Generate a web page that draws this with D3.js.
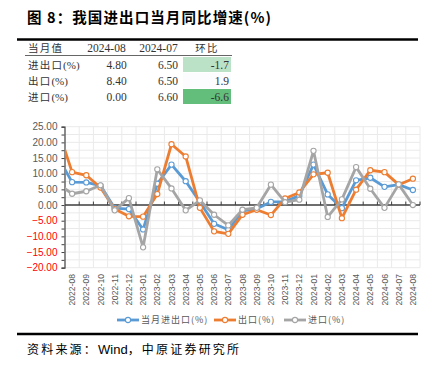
<!DOCTYPE html>
<html><head><meta charset="utf-8">
<script src="https://cdn.jsdelivr.net/npm/d3@7/dist/d3.min.js"></script>
<style>
html,body{margin:0;padding:0;background:#fff;}
svg{display:block;}
</style></head>
<body>
<svg id="c" width="439" height="370"></svg>
<script>
// ---- data ----
// first month (2022-07) is only used for the clipped segment entering the plot
const months = ["2022-07","2022-08","2022-09","2022-10","2022-11","2022-12","2023-01","2023-02","2023-03","2023-04","2023-05","2023-06","2023-07","2023-08","2023-09","2023-10","2023-11","2023-12","2024-01","2024-02","2024-03","2024-04","2024-05","2024-06","2024-07","2024-08"];
const totalYoY  = [15.3, 7.3, 7.2, 6.2, -1.0, -1.3, -7.8, 6.8, 12.9, 7.6, 1.0, -6.0, -7.9, -1.9, -1.2, 1.0, 1.1, 3.0, 12.9, 3.4, -1.0, 7.9, 8.7, 5.8, 6.5, 4.8];
const exportYoY = [24.3, 10.5, 9.5, 5.6, -1.3, -3.6, -3.7, 3.5, 19.4, 15.5, -0.9, -8.4, -9.2, -3.1, -1.5, -3.2, 2.1, 4.0, 9.8, 10.3, -4.2, 4.9, 11.1, 10.5, 6.5, 8.4];
const importYoY = [6.8, 3.6, 4.4, 6.3, -1.7, 2.2, -13.5, 11.4, 5.3, -1.7, 1.5, -3.1, -6.5, -1.5, -0.9, 6.5, 0.9, 1.7, 17.3, -3.8, 1.8, 12.1, 5.2, -0.9, 6.6, 0.0];
const seriesNames = ["当月进出口(%)", "出口(%)", "进口(%)"];
const yTicks = [25, 20, 15, 10, 5, 0, -5, -10, -15, -20];

const tableHeader = ["当月值", "2024-08", "2024-07", "环比"];
const tableRows = ["进出口(%)", "出口(%)", "进口(%)"];
const tableAug = [4.80, 8.40, 0.00];
const tableJul = [6.50, 6.50, 6.60];
const tableMoM = [-1.7, 1.9, -6.6];

// ---- drawing ----
const svg = d3.select("#c");
const cjk = "'Noto Sans CJK SC', 'Noto Sans', sans-serif";
const serif = "'Liberation Serif', 'DejaVu Serif', 'Noto Sans CJK SC', serif";
const sans = "'Liberation Sans', Arial, sans-serif";

// title
svg.append("text").attr("x", 27).attr("y", 23)
  .attr("font-family", cjk).attr("font-weight", "bold").attr("font-size", 14.5)
  .attr("letter-spacing", 1.1).attr("fill", "#000")
  .text("图 8：我国进出口当月同比增速(%)");
svg.append("line").attr("x1", 17).attr("x2", 418).attr("y1", 39.5).attr("y2", 39.5)
  .attr("stroke", "#000").attr("stroke-width", 2.5);

// table
const colRight = [null, 126.7, 178, 229];
const headerX = [28, 106.5, 158.5, 207];
tableHeader.forEach((h, i) => {
  svg.append("text").attr("x", headerX[i]).attr("y", 52)
    .attr("text-anchor", i === 0 ? "start" : "middle")
    .attr("font-family", i === 0 || i === 3 ? cjk : serif)
    .attr("font-size", i === 0 || i === 3 ? 10.5 : 11.5)
    .attr("letter-spacing", i === 0 || i === 3 ? 1.2 : 0)
    .attr("fill", "#333").text(h);
});
svg.append("line").attr("x1", 25).attr("x2", 232).attr("y1", 55.5).attr("y2", 55.5)
  .attr("stroke", "#666").attr("stroke-width", 1);
const momColor = d3.scaleLinear().domain([d3.min(tableMoM), d3.max(tableMoM)]).range(["#63BE7B", "#FCFCFF"]);
tableRows.forEach((r, i) => {
  const top = 57 + i * 16;
  const base = top + 12;
  svg.append("rect").attr("x", 183).attr("y", top).attr("width", 48).attr("height", 15)
    .attr("fill", momColor(tableMoM[i]));
  const t = svg.append("text").attr("x", 28).attr("y", base).attr("fill", "#333");
  const m = r.match(/^(.*?)(\(%\))$/);
  t.append("tspan").attr("font-family", cjk).attr("font-size", 10.5).attr("letter-spacing", 1.2).text(m[1]);
  t.append("tspan").attr("font-family", serif).attr("font-size", 11).text(m[2]);
  [tableAug[i].toFixed(2), tableJul[i].toFixed(2), tableMoM[i].toFixed(1)].forEach((v, j) => {
    svg.append("text").attr("x", colRight[j + 1]).attr("y", base).attr("text-anchor", "end")
      .attr("font-family", serif).attr("font-size", 11.5).attr("fill", "#333").text(v);
  });
});

// chart
const left = 65, right = 420;
const nVisible = months.length - 1;
const step = (right - left) / nVisible;
const x = d3.scaleBand().domain(months).range([left - step, right]).padding(0);
const cx = m => x(m) + x.bandwidth() / 2;
const y = d3.scaleLinear().domain([-20, 25]).range([267.7, 126.7]);
const visible = months.slice(1);

const g = svg.append("g");
// horizontal grid every 2.5
d3.range(-20, 25.01, 2.5).forEach(v => {
  g.append("line").attr("x1", left).attr("x2", right).attr("y1", y(v)).attr("y2", y(v))
    .attr("stroke", "#EAEAEA").attr("stroke-width", 1);
});
// vertical grid at band boundaries
visible.forEach(m => {
  const xx = x(m) + x.bandwidth();
  g.append("line").attr("x1", xx).attr("x2", xx).attr("y1", y(25)).attr("y2", y(-20))
    .attr("stroke", "#EAEAEA").attr("stroke-width", 1);
});

// y axis
const yAxis = d3.axisLeft(y).tickValues(yTicks).tickSize(3).tickFormat(d3.format(".2f"));
const ya = g.append("g").attr("transform", `translate(${left - 0.5},0)`).call(yAxis);
ya.select(".domain").attr("stroke", "#404040").attr("stroke-width", 1.2);
ya.selectAll(".tick line").attr("stroke", "#404040");
ya.selectAll(".tick text").attr("font-family", sans).attr("font-size", 10)
  .attr("x", -7).attr("fill", d => d < 0 ? "#FF0000" : "#595959");
// minor ticks
const yMinor = d3.axisLeft(y).tickValues(d3.range(-17.5, 25, 5)).tickSize(3).tickFormat("");
const ym = g.append("g").attr("transform", `translate(${left - 0.5},0)`).call(yMinor);
ym.select(".domain").remove();
ym.selectAll(".tick line").attr("stroke", "#404040");

// zero-line category axis with upward ticks
g.append("line").attr("x1", left).attr("x2", right).attr("y1", y(0)).attr("y2", y(0))
  .attr("stroke", "#404040").attr("stroke-width", 1.5);
visible.forEach(m => {
  const xx = x(m) + x.bandwidth();
  g.append("line").attr("x1", xx).attr("x2", xx).attr("y1", y(0)).attr("y2", y(0) - 3.5)
    .attr("stroke", "#404040").attr("stroke-width", 1);
});
// category labels at bottom
visible.forEach(m => {
  g.append("text").attr("transform", `translate(${cx(m)},274) rotate(-90)`)
    .attr("text-anchor", "end").attr("dy", "0.35em")
    .attr("font-family", sans).attr("font-size", 8.6).attr("fill", "#595959").text(m);
});

// lines
svg.append("clipPath").attr("id", "clip").append("rect")
  .attr("x", left).attr("y", 0).attr("width", right - left + 10).attr("height", 370);
const colors = ["#5B9BD5", "#ED7D31", "#A5A5A5"];
const allSeries = [totalYoY, exportYoY, importYoY];
const line = d3.line().x((d, i) => cx(months[i])).y(d => y(d));
const lg = svg.append("g").attr("clip-path", "url(#clip)");
allSeries.forEach((s, k) => {
  lg.append("path").datum(s).attr("d", line).attr("fill", "none")
    .attr("stroke", colors[k]).attr("stroke-width", 2.8).attr("stroke-linejoin", "round");
  lg.selectAll(null).data(s).enter().append("circle")
    .attr("cx", (d, i) => cx(months[i])).attr("cy", d => y(d)).attr("r", 2.6)
    .attr("fill", "#fff").attr("stroke", colors[k]).attr("stroke-width", 1.1);
});

// legend
const legX = [117, 214, 284];
seriesNames.forEach((n, k) => {
  const lx = legX[k], ly = 320;
  svg.append("line").attr("x1", lx).attr("x2", lx + 22).attr("y1", ly).attr("y2", ly)
    .attr("stroke", colors[k]).attr("stroke-width", 2.8);
  svg.append("circle").attr("cx", lx + 11).attr("cy", ly).attr("r", 2.6)
    .attr("fill", "#fff").attr("stroke", colors[k]).attr("stroke-width", 1.1);
  svg.append("text").attr("x", lx + 24).attr("y", ly + 3.3)
    .attr("font-family", cjk).attr("font-size", 9).attr("letter-spacing", 1).attr("fill", "#595959").text(n);
});

// footer
svg.append("line").attr("x1", 17).attr("x2", 418).attr("y1", 334).attr("y2", 334)
  .attr("stroke", "#000").attr("stroke-width", 2.5);
const ft = svg.append("text").attr("x", 27).attr("y", 354).attr("fill", "#000").attr("font-size", 12);
ft.append("tspan").attr("font-family", cjk).attr("letter-spacing", 2.2).text("资料来源：");
ft.append("tspan").attr("font-family", sans).attr("font-size", 13).text("Wind");
ft.append("tspan").attr("font-family", cjk).attr("letter-spacing", 2.2).text("，中原证券研究所");
</script>
</body></html>
